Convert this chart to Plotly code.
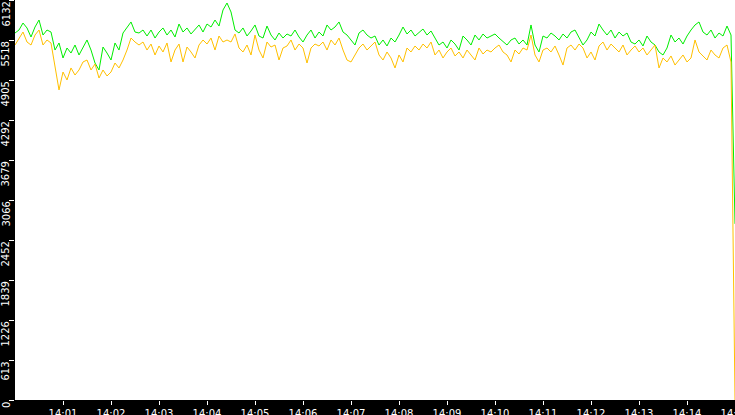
# %% Imports

import pandas as pd
import plotly.graph_objects as go

# %% #################
# Dados (uma amostra a cada 5 s, 14:00:00 -> 14:15:00)
######################

inicio = "2024-01-01 14:00:00"
tempos = pd.date_range(inicio, periods=181, freq="5s")

serie_verde = [
    5626, 5672, 5779, 5703, 5565, 5718, 5825, 5595, 5672, 5641, 5365, 5473, 5243, 5396, 5319, 5442,
    5289, 5396, 5519, 5365, 5166, 5059, 5411, 5319, 5212, 5473, 5365, 5626, 5718, 5795, 5641,
    5626, 5672, 5580, 5672, 5549, 5641, 5703, 5595, 5672, 5565, 5764, 5641, 5703, 5611, 5687,
    5749, 5641, 5764, 5718, 5825, 5733, 5979, 6086, 5948, 5672, 5626, 5703, 5580, 5657, 5749,
    5580, 5549, 5733, 5595, 5519, 5626, 5549, 5611, 5580, 5672, 5565, 5488, 5595, 5672, 5549,
    5641, 5580, 5749, 5672, 5718, 5795, 5641, 5595, 5519, 5442, 5626, 5672, 5595, 5549, 5580,
    5442, 5519, 5427, 5549, 5488, 5595, 5718, 5611, 5672, 5580, 5641, 5687, 5595, 5657, 5549,
    5442, 5488, 5396, 5519, 5457, 5365, 5580, 5519, 5442, 5595, 5519, 5611, 5549, 5580, 5611,
    5549, 5488, 5442, 5519, 5549, 5457, 5519, 5442, 5749, 5442, 5335, 5580, 5549, 5626, 5580,
    5519, 5611, 5549, 5641, 5672, 5549, 5442, 5519, 5641, 5580, 5764, 5672, 5595, 5672, 5549,
    5641, 5580, 5626, 5488, 5457, 5519, 5427, 5580, 5488, 5442, 5335, 5289, 5396, 5595, 5488,
    5549, 5457, 5580, 5672, 5749, 5795, 5641, 5595, 5672, 5549, 5626, 5580, 5733, 5595, 2700,
]

serie_laranja = [
    5442, 5549, 5641, 5488, 5442, 5595, 5672, 5442, 5519, 5473, 5135, 4753, 5028, 4906, 5090, 4982,
    5059, 5182, 5212, 5059, 5151, 4936, 5059, 4967, 5028, 5166, 5090, 5212, 5365, 5549, 5488,
    5442, 5488, 5365, 5457, 5289, 5427, 5335, 5473, 5182, 5365, 5457, 5182, 5411, 5335, 5243,
    5442, 5519, 5457, 5549, 5365, 5580, 5488, 5519, 5488, 5611, 5396, 5335, 5442, 5289, 5595,
    5365, 5243, 5488, 5411, 5442, 5212, 5396, 5427, 5519, 5365, 5457, 5396, 5166, 5396, 5457,
    5427, 5488, 5365, 5519, 5442, 5549, 5365, 5212, 5182, 5289, 5396, 5457, 5365, 5427, 5488,
    5289, 5212, 5335, 5243, 5090, 5289, 5182, 5396, 5335, 5427, 5365, 5457, 5396, 5488, 5289,
    5365, 5243, 5335, 5396, 5274, 5335, 5243, 5365, 5289, 5212, 5396, 5304, 5365, 5335, 5396,
    5442, 5335, 5289, 5182, 5365, 5304, 5396, 5365, 5595, 5289, 5182, 5365, 5396, 5335, 5427,
    5289, 5135, 5396, 5442, 5365, 5457, 5396, 5243, 5335, 5212, 5427, 5488, 5365, 5457, 5396,
    5335, 5442, 5289, 5365, 5427, 5335, 5396, 5289, 5365, 5442, 5090, 5243, 5182, 5274, 5135,
    5212, 5289, 5182, 5243, 5519, 5335, 5274, 5212, 5365, 5289, 5243, 5396, 5442, 5182, 0,
]

y_ticks = [0, 613, 1226, 1839, 2452, 3066, 3679, 4292, 4905, 5518, 6132]
x_ticks = ["14:01", "14:02", "14:03", "14:04", "14:05", "14:06", "14:07", "14:08",
           "14:09", "14:10", "14:11", "14:12", "14:13", "14:14", "14:15"]

# %% #################
# Grafico de Linha
######################

fig = go.Figure()
fig.add_trace(go.Scatter(x=tempos, y=serie_verde, mode="lines",
                         line=dict(color="#00ee00", width=1)))
fig.add_trace(go.Scatter(x=tempos, y=serie_laranja, mode="lines",
                         line=dict(color="#ffc000", width=1)))

x_vals = [pd.Timestamp("2024-01-01 " + t) for t in x_ticks]

fig.update_xaxes(
    range=[pd.Timestamp(inicio), pd.Timestamp("2024-01-01 14:15:00")],
    tickvals=x_vals,
    ticktext=x_ticks,
    ticks="outside",
    ticklen=4,
    tickcolor="white",
    tickfont=dict(family="DejaVu Sans", size=10, color="white"),
    ticklabeloverflow="allow",
    automargin=False,
    showgrid=False,
    zeroline=False,
    showline=False,
)
fig.update_yaxes(
    range=[0, 6132],
    tickvals=y_ticks,
    ticks="outside",
    ticklen=5,
    tickcolor="white",
    showticklabels=False,
    automargin=False,
    showgrid=False,
    zeroline=False,
    showline=False,
)

# rótulos do eixo y girados, começando no tick e descendo
for v in y_ticks:
    fig.add_annotation(
        x=0, xref="paper", xanchor="center", xshift=-9,
        y=v, yref="y", yanchor="top",
        text=str(v), textangle=-90, showarrow=False,
        font=dict(family="DejaVu Sans", size=10, color="white"),
    )

fig.update_layout(
    width=735,
    height=415,
    autosize=False,
    margin=dict(l=15, r=0, t=0, b=15, autoexpand=False),
    paper_bgcolor="black",
    plot_bgcolor="white",
    showlegend=False,
)

# tira a margem padrão da página para a figura ocupar a janela toda
ajuste = (
    "document.body.style.margin='0';"
    "document.body.style.overflow='hidden';"
)

fig.write_html("out.html", config={"displayModeBar": False}, post_script=ajuste)
